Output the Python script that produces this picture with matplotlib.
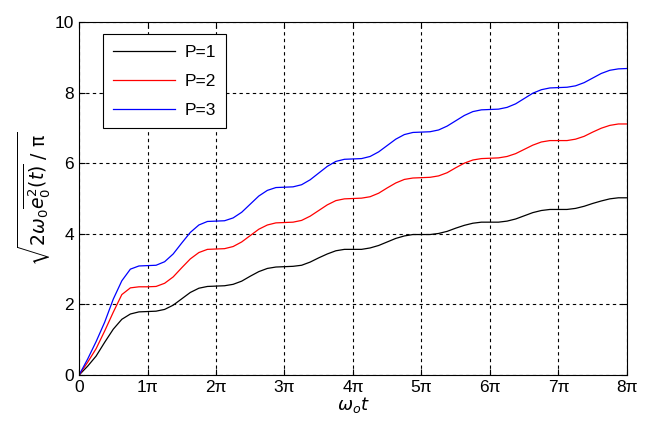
import matplotlib.pyplot as plt
import numpy as np

plt.rcParams['font.family'] = ['Liberation Sans', 'DejaVu Sans']

# x in units of pi, sampled every pi/8
x_pi = np.arange(0, 8.001, 0.125)

p1 = [0, 0.25, 0.54, 0.93, 1.30, 1.58, 1.73, 1.79,
      1.80, 1.81, 1.86, 1.98, 2.16, 2.34, 2.46, 2.51,
      2.52, 2.53, 2.57, 2.66, 2.80, 2.93, 3.02, 3.06,
      3.07, 3.08, 3.11, 3.20, 3.32, 3.43, 3.52, 3.56,
      3.56, 3.56, 3.60, 3.67, 3.77, 3.87, 3.94, 3.98,
      3.98, 3.98, 4.01, 4.07, 4.16, 4.24, 4.30, 4.33,
      4.33, 4.33, 4.36, 4.42, 4.51, 4.60, 4.66, 4.69,
      4.69, 4.69, 4.72, 4.78, 4.86, 4.93, 4.99, 5.02,
      5.02]
p2 = [0, 0.36, 0.75, 1.25, 1.78, 2.28, 2.47, 2.50,
      2.50, 2.51, 2.60, 2.78, 3.04, 3.29, 3.47, 3.56,
      3.57, 3.58, 3.64, 3.77, 3.95, 4.13, 4.25, 4.31,
      4.32, 4.33, 4.38, 4.50, 4.66, 4.82, 4.94, 4.99,
      5.00, 5.01, 5.05, 5.15, 5.30, 5.44, 5.54, 5.58,
      5.59, 5.60, 5.64, 5.73, 5.87, 6.00, 6.09, 6.13,
      6.14, 6.15, 6.19, 6.27, 6.39, 6.51, 6.60, 6.64,
      6.64, 6.64, 6.68, 6.76, 6.88, 6.99, 7.07, 7.11,
      7.11]
p3 = [0, 0.45, 0.95, 1.50, 2.15, 2.67, 3.00, 3.09,
      3.10, 3.11, 3.21, 3.43, 3.74, 4.04, 4.25, 4.35,
      4.36, 4.37, 4.45, 4.61, 4.84, 5.07, 5.23, 5.31,
      5.32, 5.33, 5.39, 5.53, 5.72, 5.91, 6.05, 6.11,
      6.12, 6.13, 6.19, 6.32, 6.50, 6.68, 6.81, 6.87,
      6.88, 6.89, 6.94, 7.05, 7.20, 7.35, 7.46, 7.51,
      7.52, 7.53, 7.58, 7.68, 7.83, 7.98, 8.08, 8.13,
      8.14, 8.15, 8.19, 8.28, 8.41, 8.54, 8.63, 8.67,
      8.68]

xtick_labels = ['0', '1π', '2π', '3π', '4π', '5π', '6π', '7π', '8π']

fig = plt.figure(figsize=(6.45, 4.21), dpi=100)
ax = fig.add_axes([0.1225, 0.109, 0.8495, 0.839])

t = x_pi * np.pi
ax.plot(t, p1, color='black', lw=0.9, label='P=1')
ax.plot(t, p2, color='red', lw=0.9, label='P=2')
ax.plot(t, p3, color='blue', lw=0.9, label='P=3')

ax.set_xlim(0, 8 * np.pi)
ax.set_ylim(0, 10)
ax.set_xticks(np.arange(9) * np.pi)
ax.set_xticklabels(xtick_labels)
ax.set_yticks(np.arange(0, 11, 2))
ax.tick_params(direction='in', top=True, right=True, labelsize=12.5, length=4)
ax.grid(True, color='black', linestyle=(0, (3, 3)), lw=0.8)

ax.set_xlabel(r'$\omega_o t$', fontsize=13, labelpad=0)
ax.set_ylabel(r'$\sqrt{2\omega_0\overline{e_0^2(t)}\ /\ \mathrm{\pi}}$', fontsize=13.5, labelpad=2)

leg = ax.legend(loc='upper left', bbox_to_anchor=(0.043, 0.965), fontsize=12.5,
                handlelength=3.6, handletextpad=0.5, labelspacing=0.8,
                borderpad=0.6, borderaxespad=0,
                fancybox=False, framealpha=1)
leg.get_frame().set_edgecolor('black')
leg.get_frame().set_linewidth(0.8)

fig.savefig('out.png')
